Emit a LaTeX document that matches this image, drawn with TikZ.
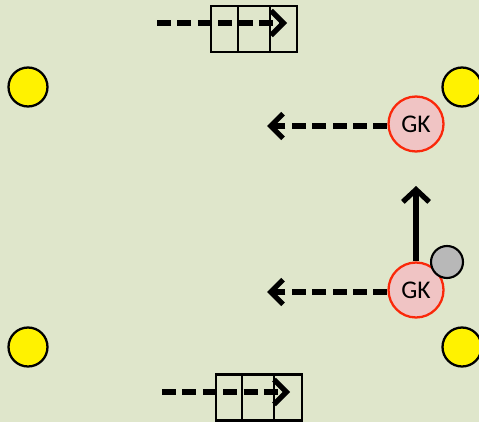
\documentclass[tikz,border=0pt]{standalone}
\usepackage{fontspec}
\setsansfont{Carlito}
\usetikzlibrary{positioning,arrows.meta}

\definecolor{pitch}{RGB}{223,230,203}
\definecolor{keeper}{RGB}{240,196,196}
\definecolor{keeperline}{RGB}{250,40,10}

\tikzset{
   cone/.style={circle, draw=black, line width=1.3pt, fill=yellow,
      minimum size=0.78cm, inner sep=0pt},
   keeper/.style={circle, draw=keeperline, line width=1.3pt, fill=keeper,
      minimum size=1.1cm, inner sep=0pt, font=\sffamily\fontsize{14.5}{14.5}\selectfont},
   ball/.style={circle, draw=black, line width=1.2pt, fill=black!28,
      minimum size=0.64cm, inner sep=0pt},
   goalcell/.style={draw=black, line width=1.4pt, minimum width=0.64cm,
      minimum height=0.92cm, inner sep=0pt, outer sep=0pt},
   run/.style={line width=3pt, dash pattern=on 8pt off 3.6pt,
      -{Straight Barb[length=7pt,width=14pt]}},
   move/.style={line width=3pt, -{Straight Barb[length=7pt,width=15pt]}},
}

\begin{document}
\begin{tikzpicture}[x=0.02cm, y=-0.02cm]
   \fill[pitch] (0,0) rectangle (479,422);
   \useasboundingbox (0,0) rectangle (479,422);

   % corner cones
   \node[cone] (c1) at (28,87)  {};
   \node[cone] (c2) at (462,87) {};
   \node[cone] (c3) at (28,347) {};
   \node[cone] (c4) at (462,347) {};

   % top goal
   \node[goalcell, minimum width=0.54cm] (t1) at (224.5,29) {};
   \node[goalcell, right=0cm of t1]  (t2) {};
   \node[goalcell, minimum width=0.54cm, right=0cm of t2] (t3) {};
   \coordinate (ta) at (157,23);
   \coordinate (tb) at (287,23);

   % bottom goal
   \node[goalcell, minimum width=0.52cm] (b1) at (229,397.5) {};
   \node[goalcell, right=0cm of b1] (b2) {};
   \node[goalcell, minimum width=0.56cm, right=0cm of b2] (b3) {};
   \coordinate (ba) at (162,392);
   \coordinate (bb) at (290,392);

   % goalkeepers
   \node[keeper] (gk1) at (416,124) {GK};
   \node[keeper] (gk2) at (416,290) {GK};
   \node[ball] (b) at (447,262) {};
   \coordinate (gk1end) at (267,126);
   \coordinate (gk2end) at (267,292);
   \coordinate (up) at (416,186);

   \draw[run] (ta) -- (tb);
   \draw[run] (ba) -- (bb);
   \draw[run] (gk1.west |- gk1end) -- (gk1end);
   \draw[run] (gk2.west |- gk2end) -- (gk2end);
   \draw[move] (gk2.north) -- (up);
\end{tikzpicture}
\end{document}
